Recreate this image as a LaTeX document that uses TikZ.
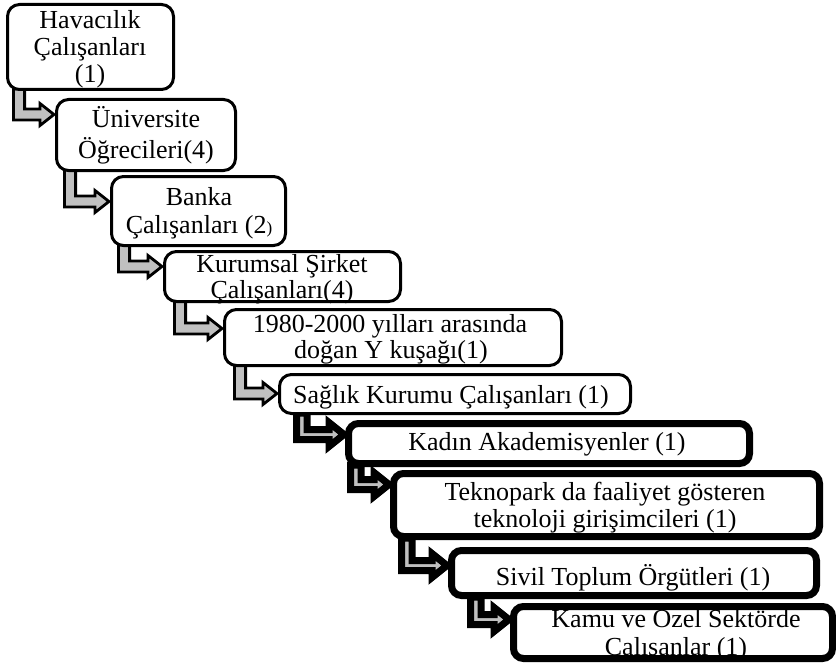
\documentclass[tikz,border=0pt]{standalone}
\usepackage{fontspec}
\setmainfont{Liberation Serif}
\usetikzlibrary{calc,shadows}
\pgfdeclarelayer{background}
\pgfsetlayers{background,main}
\definecolor{arrowgray}{HTML}{C0C0C0}
\tikzset{
  thinbox/.style={draw=black, fill=white, line width=3pt, rounded corners=12pt, inner sep=0pt},
  thickbox/.style={draw=black, fill=white, line width=7pt, rounded corners=10pt, inner sep=0pt,
     drop shadow={shadow xshift=2.5pt, shadow yshift=-2.5pt, opacity=0.25, fill=black}},
  thinarrow/.style={draw=black, fill=arrowgray, line width=2.8pt, line join=miter},
  thickarrow/.style={draw=black, fill=arrowgray, line width=7pt, line join=miter},
  lbl/.style={anchor=base, inner sep=0pt, font=\fontsize{26}{27}\selectfont}
}
% #1 style, #2 from node, #3 to node, #4 stem left x, #5 stem width,
% #6 tip offset below to.north, #7 band half height, #8 head half height, #9 head length
\newcommand\lconn[9]{%
  \coordinate (sl) at (#4,0);
  \coordinate (sr) at ({#4+#5},0);
  \coordinate (tp) at ($(#3.north west)+(-1,#6)$);
  \draw[#1] ($(#2.south -| sl)+(0,-2)$) -- ($(tp -| sl)+(0,#7)$) -- ($(tp)+(-#9,#7)$)
    -- ($(tp)+(-#9,#8)$) -- (tp) -- ($(tp)+(-#9,-#8)$) -- ($(tp)+(-#9,-#7)$)
    -- ($(tp -| sr)+(0,-#7)$) -- ($(#2.south -| sr)+(0,-2)$) -- cycle;
}
\begin{document}
\begin{tikzpicture}[x=1pt,y=-1pt]
\useasboundingbox (0,0) rectangle (836,669);

% boxes
\node[thinbox, minimum width=166pt, minimum height=85pt] (b1) at (90.5,47) {};
\node[thinbox, minimum width=179pt, minimum height=71pt] (b2) at (146,135) {};
\node[thinbox, minimum width=174pt, minimum height=69pt] (b3) at (198.5,211) {};
\node[thinbox, minimum width=236pt, minimum height=50pt] (b4) at (282.5,276.5) {};
\node[thinbox, minimum width=337pt, minimum height=56pt] (b5) at (393,337.5) {};
\node[thinbox, minimum width=351pt, minimum height=39pt] (b6) at (455,394) {};
\node[thickbox, minimum width=401pt, minimum height=40pt] (b7) at (549,443.5) {};
\node[thickbox, minimum width=426pt, minimum height=63pt] (b8) at (606.5,505) {};
\node[thickbox, minimum width=365pt, minimum height=45pt] (b9) at (634,573) {};
\node[thickbox, minimum width=319pt, minimum height=52pt] (b10) at (673,632.5) {};

% connectors
\begin{pgfonlayer}{background}
\fill[white] (0,0) rectangle (836,669);
\lconn{thinarrow}{b1}{b2}{13.4}{11.2}{16.5}{5.5}{11}{14}
\lconn{thinarrow}{b2}{b3}{64.4}{11.2}{26.5}{5.5}{11}{14}
\lconn{thinarrow}{b3}{b4}{118.4}{11.2}{16.5}{5.5}{11}{14}
\lconn{thinarrow}{b4}{b5}{174.4}{11.2}{20.5}{5.5}{11}{14}
\lconn{thinarrow}{b5}{b6}{234.4}{11.2}{20.5}{5.5}{11}{14}
\lconn{thickarrow}{b6}{b7}{296.5}{10.5}{14.5}{5}{12}{15}
\lconn{thickarrow}{b7}{b8}{350.5}{10.5}{14.5}{5}{12}{15}
\lconn{thickarrow}{b8}{b9}{401.5}{10.5}{18.5}{5}{12}{15}
\lconn{thickarrow}{b9}{b10}{470.5}{10.5}{16.5}{5}{12}{15}
\end{pgfonlayer}

% texts
\node[lbl] (t1a) at (90,29) {Havacılık};
\node[lbl] (t1b) at (90,56) {Çalışanları};
\node[lbl] (t1c) at (90,83) {(1)};
\node[lbl] (t2a) at (146,128) {Üniversite};
\node[lbl] (t2b) at (146,158) {Öğrecileri(4)};
\node[lbl] (t3a) at (199,205) {Banka};
\node[lbl] (t3b) at (199,233) {Çalışanları (2{\fontsize{17}{17}\selectfont)}};
\node[lbl] (t4a) at (282,272) {Kurumsal Şirket};
\node[lbl] (t4b) at (282,298) {Çalışanları(4)};
\node[lbl] (t5a) at (390,332) {1980-2000 yılları arasında};
\node[lbl] (t5b) at (391,358) {doğan Y kuşağı(1)};
\node[lbl] (t6) at (451,403) {Sağlık Kurumu Çalışanları (1)};
\node[lbl] (t7) at (547,450) {Kadın Akademisyenler (1)};
\node[lbl] (t8a) at (605,500) {Teknopark da faaliyet gösteren};
\node[lbl] (t8b) at (605,527) {teknoloji girişimcileri (1)};
\node[lbl] (t9) at (633,585) {Sivil Toplum Örgütleri (1)};
\node[lbl] (t10a) at (676,627) {Kamu ve Ozel Sektörde};
\node[lbl] (t10b) at (676,655) {Calısanlar (1)};
\end{tikzpicture}
\end{document}
